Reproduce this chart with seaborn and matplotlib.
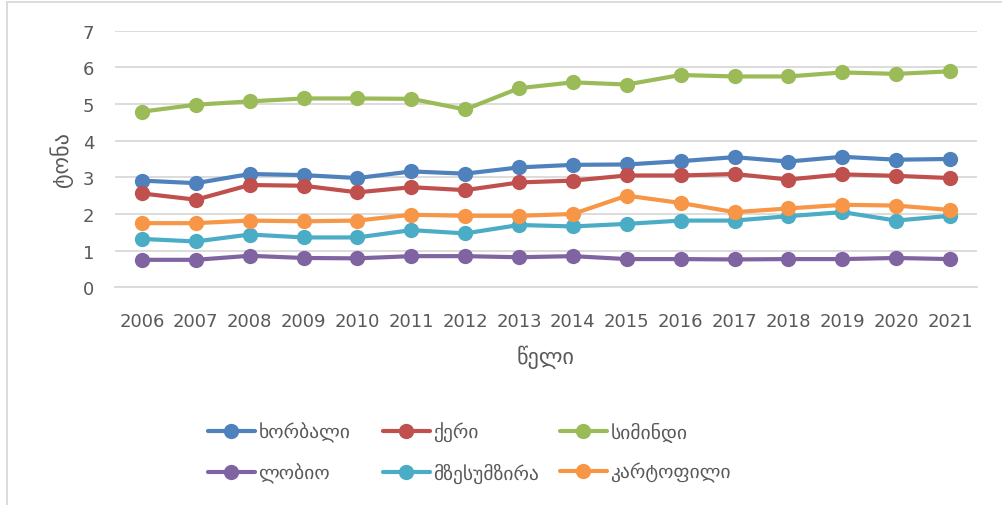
import seaborn as sns
import matplotlib.pyplot as plt
import matplotlib.lines as mlines
import pandas as pd

# data (tons per hectare, by year)
years = list(range(2006, 2022))
crops = ['ხორბალი', 'ქერი', 'სიმინდი', 'ლობიო', 'მზესუმზირა', 'კარტოფილი']
wheat = [2.91, 2.84, 3.09, 3.06, 2.98, 3.16, 3.10, 3.27, 3.34, 3.35, 3.44, 3.55, 3.43, 3.56, 3.48, 3.50]
barley = [2.56, 2.39, 2.79, 2.77, 2.59, 2.73, 2.65, 2.86, 2.91, 3.05, 3.05, 3.09, 2.94, 3.08, 3.04, 2.98]
maize = [4.79, 4.98, 5.07, 5.15, 5.15, 5.14, 4.85, 5.43, 5.59, 5.53, 5.79, 5.75, 5.75, 5.86, 5.82, 5.89]
beans = [0.75, 0.75, 0.86, 0.80, 0.79, 0.85, 0.85, 0.82, 0.85, 0.77, 0.77, 0.76, 0.77, 0.77, 0.80, 0.77]
sunflower = [1.32, 1.25, 1.44, 1.36, 1.36, 1.56, 1.47, 1.70, 1.66, 1.73, 1.82, 1.82, 1.94, 2.05, 1.82, 1.95]
potato = [1.75, 1.75, 1.82, 1.80, 1.82, 1.98, 1.95, 1.95, 2.00, 2.50, 2.30, 2.05, 2.15, 2.25, 2.23, 2.11]
colors = ['#4F81BD', '#C0504D', '#9BBB59', '#8064A2', '#4BACC6', '#F79646']

series = [wheat, barley, maize, beans, sunflower, potato]
df = pd.DataFrame({
    'year': years * len(crops),
    'crop': [c for c in crops for _ in years],
    'value': [v for s in series for v in s],
})

sns.set_style('white')
plt.rcParams['font.family'] = ['DejaVu Sans']
text_col = '#595959'

fig = plt.figure(figsize=(10.02, 5.06), dpi=100)
ax = fig.add_axes([0.1148, 0.4302, 0.8602, 0.5073])

sns.lineplot(data=df, x='year', y='value', hue='crop', hue_order=crops,
             palette=colors, marker='o', markersize=11, markeredgewidth=0,
             linewidth=3, legend=False, ax=ax)

ax.set_xlim(2005.5, 2021.5)
ax.set_ylim(0, 7)
ax.set_yticks(range(0, 8))
ax.set_xticks(years)
ax.set_xticks([y + 0.5 for y in range(2005, 2022)], minor=True)
ax.yaxis.grid(True, color='#D9D9D9', linewidth=1.3)
ax.set_axisbelow(True)
for side in ['left', 'right', 'top']:
    ax.spines[side].set_visible(False)
ax.spines['bottom'].set_color('#D9D9D9')
ax.spines['bottom'].set_linewidth(1.3)
ax.tick_params(axis='x', which='major', length=0, pad=18, labelsize=13, labelcolor=text_col)
ax.tick_params(axis='x', which='minor', length=6, width=1.3, color='#D9D9D9', direction='out')
ax.tick_params(axis='y', length=0, pad=15, labelsize=13, labelcolor=text_col)
ax.set_xlabel('წელი', fontsize=16, color=text_col, labelpad=10)
ax.set_ylabel('ტონა', fontsize=16, color=text_col, labelpad=7)

# legend: Excel-style equal-width columns, one small legend per column
handles = [mlines.Line2D([], [], color=c, linewidth=3, marker='o', markersize=11,
                         markeredgewidth=0) for c in colors]
col_x = [208, 383, 560]
for k, x0 in enumerate(col_x):
    idx = [k, k + 3]
    leg = fig.legend([handles[i] for i in idx], [crops[i] for i in idx],
                     loc='upper left', bbox_to_anchor=(x0 / 1002, 1 - 423 / 506),
                     frameon=False, fontsize=14, labelcolor=text_col,
                     handlelength=2.4, handletextpad=0.2, labelspacing=1.05,
                     borderpad=0, borderaxespad=0)

# outer chart frame
fig.add_artist(mlines.Line2D([7 / 1002, 7 / 1002], [0, 1 - 3 / 506], color='#D9D9D9', linewidth=1.3))
fig.add_artist(mlines.Line2D([7 / 1002, 1], [1 - 3 / 506, 1 - 3 / 506], color='#D9D9D9', linewidth=1.3))

fig.savefig('out.png', dpi=100)
